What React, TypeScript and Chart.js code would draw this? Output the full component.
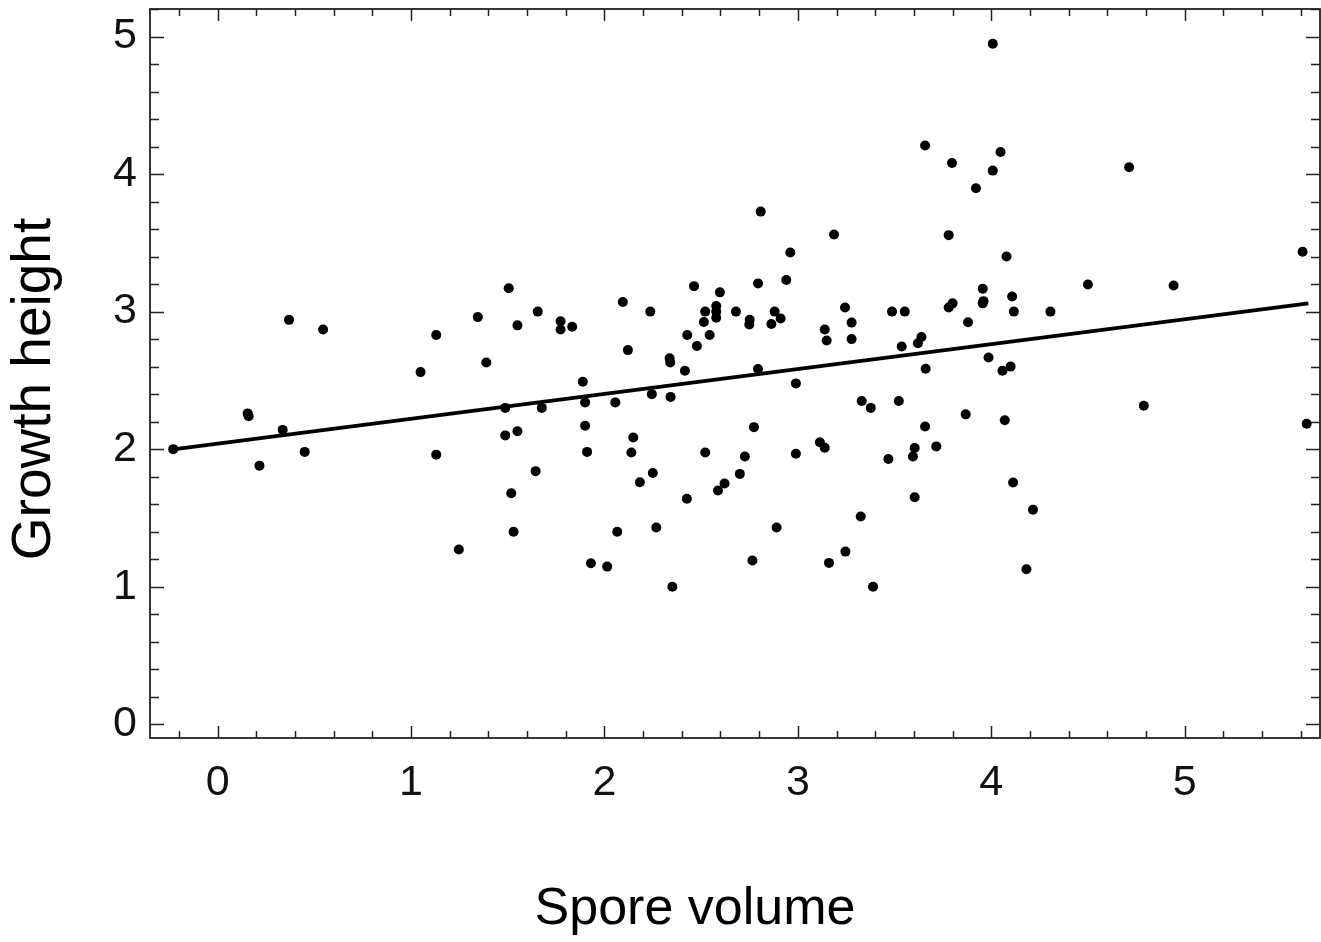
import React, { useEffect, useRef } from "react";
import { Chart, registerables } from "chart.js";

Chart.register(...registerables);

// Spore volume (x) and growth height (y) for each observation
const sporeVolume = [
  -0.23, 0.155, 0.16, 0.216, 0.336, 0.369, 0.45, 0.545, 1.049, 1.13,
  1.13, 1.247, 1.345, 1.389, 1.487, 1.487, 1.505, 1.518, 1.53, 1.55,
  1.55, 1.644, 1.655, 1.676, 1.773, 1.773, 1.833, 1.888, 1.9, 1.9,
  1.91, 1.93, 2.014, 2.056, 2.066, 2.095, 2.121, 2.139, 2.149, 2.183,
  2.237, 2.245, 2.25, 2.268, 2.337, 2.34, 2.342, 2.351, 2.416, 2.426,
  2.428, 2.463, 2.478, 2.514, 2.521, 2.521, 2.544, 2.578, 2.578, 2.578,
  2.587, 2.597, 2.621, 2.68, 2.7, 2.726, 2.749, 2.751, 2.765, 2.773,
  2.794, 2.794, 2.808, 2.863, 2.88, 2.89, 2.911, 2.94, 2.961, 2.99,
  2.99, 3.114, 3.139, 3.139, 3.149, 3.161, 3.187, 3.244, 3.246, 3.278,
  3.278, 3.325, 3.33, 3.377, 3.389, 3.468, 3.487, 3.522, 3.537, 3.553,
  3.595, 3.604, 3.604, 3.621, 3.639, 3.658, 3.658, 3.661, 3.716, 3.78,
  3.78, 3.797, 3.8, 3.868, 3.88, 3.921, 3.956, 3.96, 3.956, 3.986,
  4.008, 4.008, 4.048, 4.058, 4.07, 4.079, 4.1, 4.108, 4.113, 4.117,
  4.182, 4.216, 4.306, 4.5, 4.713, 4.789, 4.943, 5.61, 5.631,
];

const growthHeight = [
  2.0, 2.26, 2.24, 1.88, 2.14, 2.94, 1.98, 2.87, 2.56, 2.83,
  1.96, 1.27, 2.96, 2.63, 2.3, 2.1, 3.17, 1.68, 1.4, 2.9,
  2.13, 1.84, 3.0, 2.3, 2.93, 2.87, 2.89, 2.49, 2.34, 2.17,
  1.98, 1.17, 1.146, 2.34, 1.4, 3.07, 2.72, 1.976, 2.085, 1.76,
  3.0, 2.4, 1.826, 1.43, 2.66, 2.63, 2.38, 1.0, 2.57, 1.64,
  2.83, 3.185, 2.75, 2.925, 3.0, 1.976, 2.83, 3.04, 3.0, 2.955,
  1.7, 3.14, 1.75, 3.0, 1.82, 1.947, 2.906, 2.94, 1.19, 2.16,
  3.205, 2.583, 3.727, 2.91, 3.0, 1.43, 2.95, 3.23, 3.43, 2.478,
  1.966, 2.05, 2.01, 2.87, 2.79, 1.173, 3.56, 3.03, 1.255, 2.92,
  2.8, 1.51, 2.35, 2.3, 1.0, 1.928, 3.0, 2.35, 2.746, 3.0,
  1.947, 2.008, 1.65, 2.77, 2.815, 2.165, 4.207, 2.585, 2.02, 3.556,
  3.03, 4.08, 3.06, 2.253, 2.923, 3.897, 3.166, 3.076, 3.06, 2.666,
  4.025, 4.948, 4.16, 2.57, 2.21, 3.4, 2.6, 3.11, 1.757, 3.0,
  1.127, 1.559, 3.0, 3.197, 4.05, 2.316, 3.19, 3.435, 2.185,
];

// Fitted regression line end points
const fitX = [-0.24, 5.64];
const fitY = [1.996, 3.06];

// Axis ticks and titles
const xTickValues = [0, 1, 2, 3, 4, 5];
const yTickValues = [0, 1, 2, 3, 4, 5];
const xTitle = "Spore volume";
const yTitle = "Growth height";

const FONT = "'Liberation Sans', Arial, Helvetica, sans-serif";

const framePlugin = {
  id: "frameTicks",
  afterDatasetsDraw(chart: any) {
    const { ctx, chartArea: a, scales } = chart;
    const xs = scales.x;
    const ys = scales.y;
    ctx.save();
    ctx.strokeStyle = "#222";
    ctx.lineWidth = 1.8;
    ctx.strokeRect(a.left, a.top, a.right - a.left, a.bottom - a.top);
    ctx.lineWidth = 1.5;
    ctx.beginPath();
    for (let i = -10; i <= 60; i++) {
      const v = i / 5;
      if (v < xs.min || v > xs.max) continue;
      const major = i % 5 === 0;
      const len = major ? 12 : 7;
      const px = Math.round(xs.getPixelForValue(v)) + 0.5;
      ctx.moveTo(px, a.bottom);
      ctx.lineTo(px, a.bottom - len);
      ctx.moveTo(px, a.top);
      ctx.lineTo(px, a.top + len);
    }
    for (let i = -5; i <= 30; i++) {
      const v = i / 5;
      if (v < ys.min || v > ys.max) continue;
      const major = i % 5 === 0;
      const len = major ? 14 : 9;
      const py = Math.round(ys.getPixelForValue(v)) + 0.5;
      ctx.moveTo(a.left, py);
      ctx.lineTo(a.left + len, py);
      ctx.moveTo(a.right, py);
      ctx.lineTo(a.right - len, py);
    }
    ctx.stroke();
    ctx.restore();
  },
};

// Axis titles placed like the reference (not centred on the plot area)
const titlePlugin = {
  id: "axisTitles",
  afterDraw(chart: any) {
    const { ctx } = chart;
    ctx.save();
    ctx.fillStyle = "#000";
    ctx.textAlign = "center";
    ctx.textBaseline = "middle";
    ctx.font = `52px ${FONT}`;
    ctx.fillText(xTitle, 695, 910);
    ctx.translate(35, 389);
    ctx.rotate(-Math.PI / 2);
    ctx.font = `55px ${FONT}`;
    ctx.fillText(yTitle, 0, 0);
    ctx.restore();
  },
};

export default function App() {
  const canvasRef = useRef<HTMLCanvasElement | null>(null);

  useEffect(() => {
    const canvas = canvasRef.current;
    if (!canvas) return;
    const points = sporeVolume.map((x, i) => ({ x, y: growthHeight[i] }));
    const fit = fitX.map((x, i) => ({ x, y: fitY[i] }));

    const chart = new Chart(canvas, {
      type: "scatter",
      data: {
        datasets: [
          {
            type: "line",
            data: fit,
            borderColor: "#000",
            borderWidth: 3.8,
            pointRadius: 0,
            fill: false,
            order: 0,
          } as any,
          {
            data: points,
            backgroundColor: "#000",
            borderWidth: 0,
            pointRadius: 5,
            pointHoverRadius: 5,
            order: 1,
          },
        ],
      },
      options: {
        animation: false,
        responsive: true,
        maintainAspectRatio: false,
        layout: { autoPadding: false, padding: { top: 9, right: 1, left: 0, bottom: 0 } },
        plugins: {
          legend: { display: false },
          tooltip: { enabled: false },
        },
        scales: {
          x: {
            type: "linear",
            min: -0.35,
            max: 5.7,
            afterFit: (s: any) => {
              s.height = 204;
              s.paddingLeft = 0;
              s.paddingRight = 0;
            },
            afterBuildTicks: (s: any) => {
              s.ticks = xTickValues.map((v) => ({ value: v }));
            },
            grid: { display: false, drawTicks: false },
            border: { display: false },
            ticks: {
              font: { family: FONT, size: 43 },
              color: "#111",
              padding: 19,
              maxRotation: 0,
            },
            title: { display: false, text: xTitle },
          },
          y: {
            type: "linear",
            min: -0.1,
            max: 5.2,
            afterFit: (s: any) => {
              s.width = 150;
              s.paddingTop = 0;
              s.paddingBottom = 0;
            },
            afterBuildTicks: (s: any) => {
              s.ticks = yTickValues.map((v) => ({ value: v }));
            },
            grid: { display: false, drawTicks: false },
            border: { display: false },
            ticks: {
              font: { family: FONT, size: 43 },
              color: "#111",
              padding: 13,
            },
            title: { display: false, text: yTitle },
          },
        },
      },
      plugins: [framePlugin, titlePlugin],
    });
    return () => chart.destroy();
  }, []);

  return (
    <div
      style={{
        position: "absolute",
        left: 0,
        top: 0,
        width: 1321,
        height: 942,
        background: "#fff",
      }}
    >
      <canvas ref={canvasRef} />
    </div>
  );
}
